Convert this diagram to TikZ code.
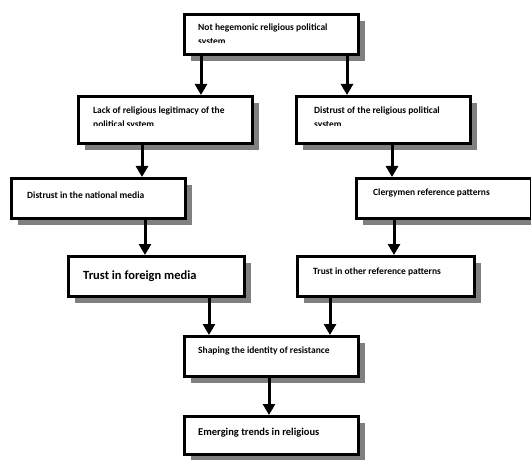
\documentclass[tikz,border=0pt]{standalone}
\usepackage{fontspec}
\setmainfont{Carlito}
\usetikzlibrary{arrows.meta,shadows}
\tikzset{
  box/.style={draw=black, line width=2.6pt, fill=white, rectangle, inner sep=0pt,
    anchor=north west, minimum width=174pt, minimum height=40pt,
    drop shadow={shadow xshift=7pt, shadow yshift=-7pt, fill=black!50, opacity=1}},
  txt/.style={anchor=base west, inner sep=0pt, font=\bfseries\fontsize{9.5}{14}\selectfont, align=left},
  bigtxt/.style={anchor=base west, inner sep=0pt, font=\bfseries\fontsize{12.5}{14}\selectfont},
  midtxt/.style={anchor=base west, inner sep=0pt, font=\bfseries\fontsize{10.5}{14}\selectfont},
  arr/.style={line width=3pt, -{Triangle[length=11pt,width=12pt]}},
}
\begin{document}
\begin{tikzpicture}[x=1pt,y=-1pt]
\useasboundingbox[fill=white] (0,0) rectangle (531,460);
% boxes
\node[box] (b1) at (183,13) {};
\node[box, minimum height=47pt] (b2) at (77,95) {};
\node[box, minimum height=47pt] (b3) at (295,95) {};
\node[box] (b4) at (10,177) {};
\node[box, minimum width=175pt] (b5) at (355,177) {};
\node[box, minimum width=176pt] (b6) at (67,255) {};
\node[box, minimum width=177pt] (b7) at (296,255) {};
\node[box] (b8) at (183,335) {};
\node[box, minimum height=38pt] (b9) at (183,415) {};
% texts (clipped like text boxes)
\begin{scope}
\clip (185,15) rectangle (355,43);
\node[txt] (t1) at (198,45) {Not hegemonic religious political\\svstem};
\end{scope}
\begin{scope}
\clip (79,97) rectangle (249,126);
\node[txt] (t2) at (93,128) {Lack of religious legitimacy of the\\political system};
\end{scope}
\begin{scope}
\clip (297,97) rectangle (467,126);
\node[txt] (t3) at (314,128) {Distrust of the religious political\\system};
\end{scope}
\node[txt] (t4) at (27,198) {Distrust in the national media};
\node[txt] (t5) at (373,196) {Clergymen reference patterns};
\node[bigtxt] (t6) at (83,279) {Trust in foreign media};
\node[txt] (t7) at (313,274) {Trust in other reference patterns};
\node[txt] (t8) at (198,353) {Shaping the identity of resistance};
\node[midtxt] (t9) at (198,435) {Emerging trends in religious};
% arrows
\draw[arr] (201,0 |- b1.south) -- (201,0 |- b2.north);
\draw[arr] (347,0 |- b1.south) -- (347,0 |- b3.north);
\draw[arr] (142,0 |- b2.south) -- (142,0 |- b4.north);
\draw[arr] (392,0 |- b3.south) -- (392,0 |- b5.north);
\draw[arr] (145,0 |- b4.south) -- (145,0 |- b6.north);
\draw[arr] (394,0 |- b5.south) -- (394,0 |- b7.north);
\draw[arr] (209,0 |- b6.south) -- (209,0 |- b8.north);
\draw[arr] (330,0 |- b7.south) -- (330,0 |- b8.north);
\draw[arr] (269,0 |- b8.south) -- (269,0 |- b9.north);
\end{tikzpicture}
\end{document}
